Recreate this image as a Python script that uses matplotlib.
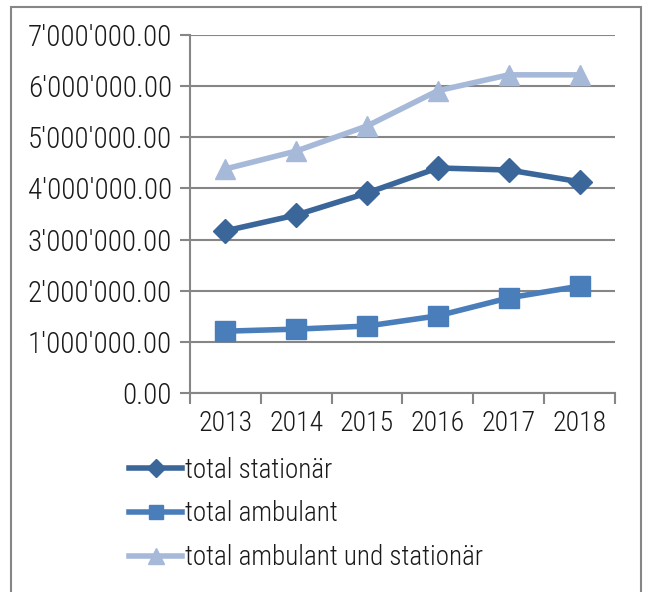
import numpy as np
import matplotlib
matplotlib.use('Agg')
import matplotlib.pyplot as plt
from matplotlib.ticker import FuncFormatter, FixedLocator
from matplotlib.patches import Rectangle

years = ['2013', '2014', '2015', '2016', '2017', '2018']
stationaer = [3170000, 3480000, 3910000, 4400000, 4360000, 4130000]
ambulant = [1210000, 1250000, 1310000, 1510000, 1860000, 2090000]
total = [4380000, 4730000, 5220000, 5910000, 6220000, 6220000]

plt.rcParams['font.family'] = ['Roboto Condensed', 'Archivo Narrow', 'DejaVu Sans']
plt.rcParams['font.weight'] = 'light'
fs = 21

fig = plt.figure(figsize=(6.48, 5.92), dpi=100)
ax = fig.add_axes([0.293, 0.336, 0.656, 0.605])

x = np.arange(len(years))
l1, = ax.plot(x, stationaer, color='#3B6699', lw=4, marker='D', ms=12, label='total stationär')
l2, = ax.plot(x, ambulant, color='#4A7EBB', lw=4, marker='s', ms=14, label='total ambulant')
l3, = ax.plot(x, total, color='#A6B9D8', lw=4, marker='^', ms=15, label='total ambulant und stationär')

ax.set_xlim(-0.5, 5.5)
ax.set_ylim(0, 7000000)
ax.set_yticks(np.arange(0, 7000001, 1000000))

def fmt(v, pos):
    s = '{:,.2f}'.format(v)
    return s.replace(',', "'")
ax.yaxis.set_major_formatter(FuncFormatter(fmt))

ax.set_xticks(x)
ax.set_xticklabels(years)
ax.xaxis.set_minor_locator(FixedLocator(np.arange(-0.5, 6, 1)))
ax.tick_params(axis='x', which='major', length=0, pad=12, labelsize=20, colors='#1a1a1a')
ax.tick_params(axis='x', which='minor', length=8, width=1.5, color='#868686', direction='out')
ax.tick_params(axis='y', length=7, width=1.5, color='#868686', labelsize=fs, labelcolor='#1a1a1a', pad=6)

ax.grid(axis='y', color='#868686', lw=1.5)
ax.set_axisbelow(True)
for sp in ['top', 'right']:
    ax.spines[sp].set_visible(False)
for sp in ['left', 'bottom']:
    ax.spines[sp].set_color('#868686')
    ax.spines[sp].set_linewidth(1.5)

leg = fig.legend(handles=[l1, l2, l3], loc='upper left', bbox_to_anchor=(0.183, 0.247),
                 frameon=False, fontsize=19.5, handlelength=1.95, handletextpad=0.1,
                 labelspacing=0.62, borderaxespad=0, markerscale=0.75)
for t in leg.get_texts():
    t.set_color('#1a1a1a')

fig.patches.append(Rectangle((0.017, -0.05), 0.972, 1.038, transform=fig.transFigure,
                             fill=False, edgecolor='#868686', lw=1.5))

fig.savefig('out.png', dpi=100)
